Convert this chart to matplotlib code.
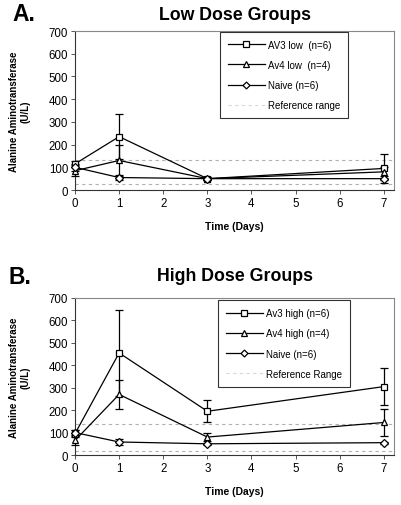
import matplotlib
matplotlib.use("Agg")
import matplotlib.pyplot as plt
from matplotlib.lines import Line2D

plt.rcParams['font.family'] = ['Liberation Sans', 'DejaVu Sans']

days = [0, 1, 3, 7]

# Panel A: low dose
low_labels = ["AV3 low  (n=6)", "Av4 low  (n=4)", "Naive (n=6)", "Reference range"]
av3_low = [115, 235, 50, 95]
av3_low_err = [12, 100, 8, 65]
av4_low = [85, 130, 50, 80]
av4_low_err = [25, 70, 6, 20]
naive_low = [100, 55, 50, 50]
naive_low_err = [15, 10, 5, 5]

# Panel B: high dose
high_labels = ["Av3 high (n=6)", "Av4 high (n=4)", "Naive (n=6)", "Reference Range"]
av3_high = [95, 455, 195, 305]
av3_high_err = [15, 193, 50, 82]
av4_high = [65, 270, 80, 145]
av4_high_err = [20, 65, 18, 60]
naive_high = [100, 58, 50, 55]
naive_high_err = [12, 12, 5, 5]

ref_range_low = [25, 133]
ref_range_high = [20, 138]

yticks = [0, 100, 200, 300, 400, 500, 600, 700]
xticks = [0, 1, 2, 3, 4, 5, 6, 7]

markers = ['s', '^', 'D']
msizes = [5, 5, 4]


def draw_panel(ax, series, errs, labels, ref, title, legend_box, title_pad):
    for ref_y in ref:
        ax.axhline(ref_y, color='#b0b0b0', lw=0.8, ls=(0, (3, 3)), zorder=1)
    handles = []
    for vals, err, m, ms in zip(series, errs, markers, msizes):
        ax.errorbar(days, vals, yerr=err, color='black', lw=0.9, marker=m, ms=ms,
                    mfc='white', mec='black', mew=0.9, capsize=3, elinewidth=0.9,
                    capthick=0.9, clip_on=False, zorder=3)
        handles.append(Line2D([], [], color='black', lw=0.9, marker=m, ms=ms - 0.5,
                              mfc='white', mec='black', mew=0.9))
    handles.append(Line2D([], [], color='#d8d8d8', lw=0.8, ls=(0, (3, 3))))
    ax.set_xlim(0, 7.23)
    ax.set_ylim(0, 700)
    ax.set_xticks(xticks)
    ax.set_yticks(yticks)
    ax.tick_params(labelsize=8.3, length=3, width=0.7, color='#555555', pad=2)
    for s in ax.spines.values():
        s.set_color('#888888')
        s.set_linewidth(0.8)
    ax.spines['left'].set_color('#333333')
    ax.spines['bottom'].set_color('#333333')
    ax.set_xlabel('Time (Days)', fontsize=7.5, fontweight='bold', labelpad=9)
    ax.set_ylabel('Alanine Aminotransferase\n(U/L)', fontsize=7, fontweight='bold',
                  labelpad=13)
    leg = ax.legend(handles, labels, loc='upper left', bbox_to_anchor=legend_box,
                    fontsize=7.0, frameon=True, fancybox=False, edgecolor='black',
                    handlelength=3.8, handletextpad=0.35, labelspacing=1.05,
                    borderpad=0.8, borderaxespad=0)
    leg.get_frame().set_linewidth(0.8)
    ax.set_title(title, fontsize=12.8, fontweight='bold', pad=title_pad)


fig = plt.figure(figsize=(4.02, 5.06), dpi=100)

ax_a = fig.add_axes([0.1866, 0.6225, 0.7935, 0.3142])
draw_panel(ax_a, [av3_low, av4_low, naive_low], [av3_low_err, av4_low_err, naive_low_err],
           low_labels, ref_range_low, 'Low Dose Groups', (0.455, 0.995), 9)
fig.text(0.03, 0.972, 'A.', fontsize=16.5, fontweight='bold', va='center')

ax_b = fig.add_axes([0.1866, 0.0988, 0.7935, 0.3103])
draw_panel(ax_b, [av3_high, av4_high, naive_high], [av3_high_err, av4_high_err, naive_high_err],
           high_labels, ref_range_high, 'High Dose Groups', (0.448, 0.985), 13)
fig.text(0.02, 0.452, 'B.', fontsize=16.5, fontweight='bold', va='center')

fig.savefig('out.png', dpi=100)
